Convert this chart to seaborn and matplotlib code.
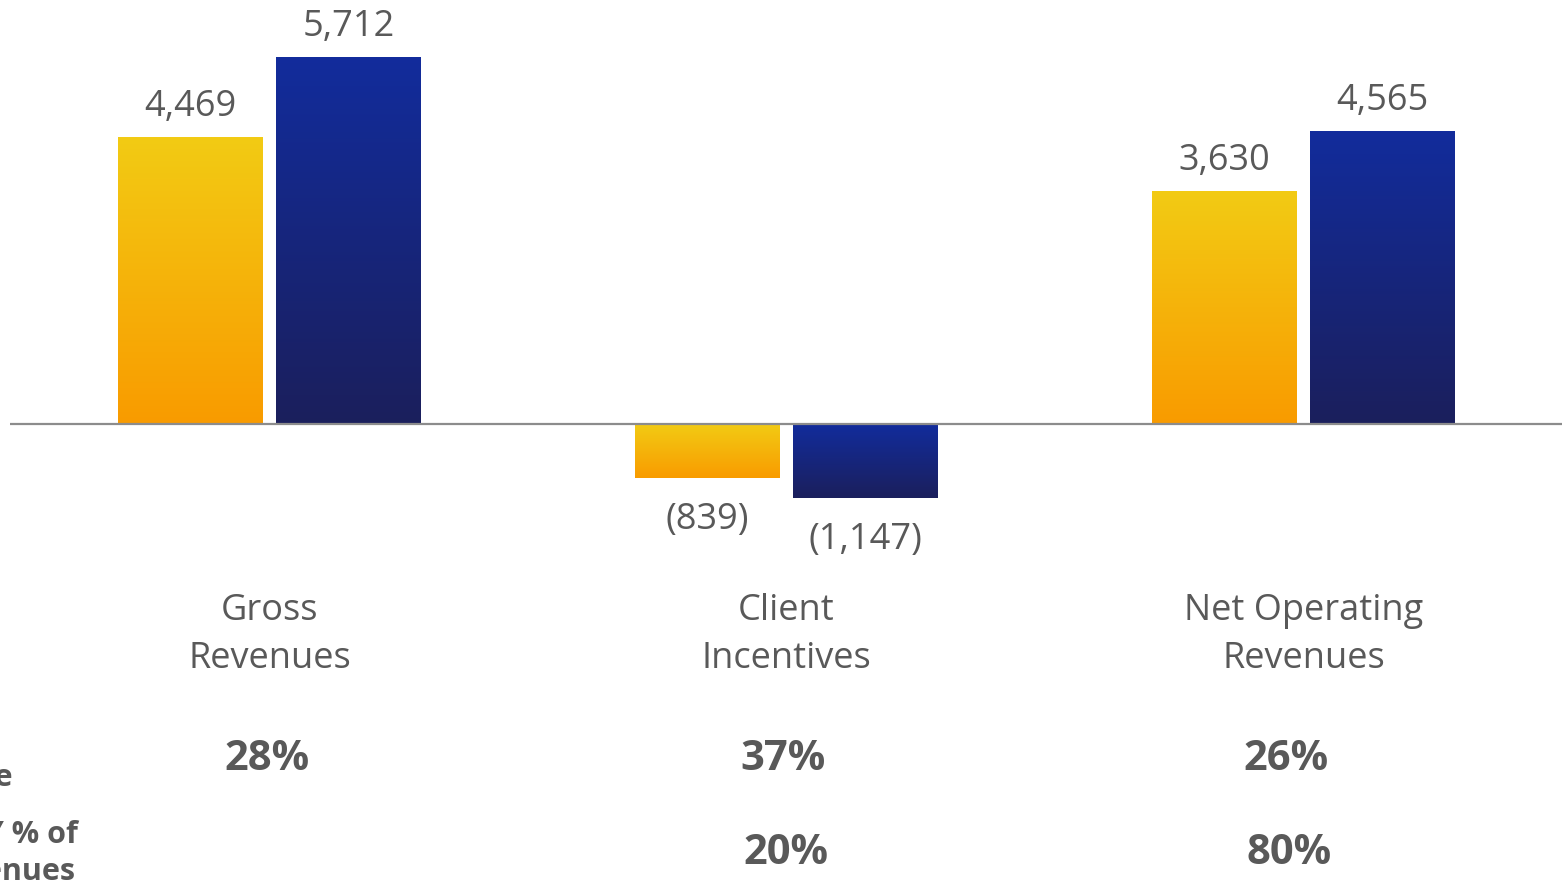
import numpy as np
import pandas as pd
import matplotlib
matplotlib.use("Agg")
import matplotlib.pyplot as plt
from matplotlib.colors import LinearSegmentedColormap
from matplotlib import transforms
import seaborn as sns

# --- data -------------------------------------------------------------
categories = ["Gross\nRevenues", "Client\nIncentives", "Net Operating\nRevenues"]
series = ["FY21", "FY22"]
values_fy21 = [4469, -839, 3630]
values_fy22 = [5712, -1147, 4565]
growth_pct = [28, 37, 26]
share_pct = [None, 20, 80]
row_labels = ["YoY Change", "FY % of", "Revenues"]

# --- styling ----------------------------------------------------------
sns.set_theme(style="white")
plt.rcParams["font.family"] = ["Open Sans", "DejaVu Sans"]
TEXT = "#595959"
base_colors = {"FY21": "#F5B800", "FY22": "#152680"}
gradients = {
    "FY21": ("#F2CB14", "#F99B00"),
    "FY22": ("#122C9C", "#1B1F5C"),
}

df = pd.DataFrame({
    "category": np.repeat(categories, 2),
    "series": series * len(categories),
    "value": [v for pair in zip(values_fy21, values_fy22) for v in pair],
})

W, H = 1563, 884
fig = plt.figure(figsize=(W / 100, H / 100), dpi=100)
ax = fig.add_axes([10 / W, 0, 1552 / W, 1])

sns.barplot(data=df, x="category", y="value", hue="series",
            hue_order=series, palette=base_colors, order=categories,
            width=0.611, gap=0.082, saturation=1, legend=False, ax=ax)

px_per_unit = 0.0641
ax.set_xlim(-0.502, -0.502 + 1552 / 517)
ax.set_ylim(-460 / px_per_unit, 424 / px_per_unit)
ax.axis("off")

# seaborn adds the bars one hue level at a time
bars = list(ax.patches)
n = len(categories)
bar_series = [series[k // n] for k in range(len(bars))]

# replace flat fills with vertical gradients (light at top, dark at bottom)
grad = np.linspace(0, 1, 256).reshape(-1, 1)
for patch, key in zip(bars, bar_series):
    cmap = LinearSegmentedColormap.from_list(key, gradients[key])
    x0 = patch.get_x()
    x1 = x0 + patch.get_width()
    y0 = patch.get_y()
    y1 = y0 + patch.get_height()
    ax.imshow(grad, cmap=cmap, aspect="auto", origin="upper",
              extent=(x0, x1, min(y0, y1), max(y0, y1)),
              interpolation="bilinear", zorder=2)
    patch.set_visible(False)

ax.axhline(0, color="#8C8C8C", lw=1.6, zorder=3)

# value labels
for patch in bars:
    val = patch.get_height()
    xc = patch.get_x() + patch.get_width() / 2
    if val >= 0:
        txt = f"{val:,.0f}"
        off = 22
    else:
        txt = f"({abs(val):,.0f})"
        off = -30.5
    ax.annotate(txt, (xc, val), xytext=(0, off), textcoords="offset points",
                ha="center", va="center", fontsize=26, color=TEXT)

# category labels and percentage rows
blend = transforms.blended_transform_factory(ax.transData, fig.transFigure)
pct_dx = [-0.005, -0.006, -0.033]
for i, cat in enumerate(categories):
    ax.text(i, 1 - 635 / H, cat, transform=blend, ha="center", va="center",
            fontsize=26, color=TEXT, linespacing=1.42)
    ax.text(i + pct_dx[i], 1 - 759 / H, f"{growth_pct[i]}%", transform=blend,
            ha="center", va="center", fontsize=30, fontweight="bold", color=TEXT)
    if share_pct[i] is not None:
        ax.text(i + pct_dx[i] + 0.005, 1 - 854 / H, f"{share_pct[i]}%",
                transform=blend, ha="center", va="center", fontsize=30,
                fontweight="bold", color=TEXT)

# row headers on the left margin
fig.text(12 / W, 1 - 778 / H, row_labels[0], ha="right", va="center",
         fontsize=22, fontweight="bold", color=TEXT)
fig.text(78 / W, 1 - 835 / H, row_labels[1], ha="right", va="center",
         fontsize=22, fontweight="bold", color=TEXT)
fig.text(75 / W, 1 - 872 / H, row_labels[2], ha="right", va="center",
         fontsize=22, fontweight="bold", color=TEXT)

fig.savefig("out.png", dpi=100, facecolor="white")
